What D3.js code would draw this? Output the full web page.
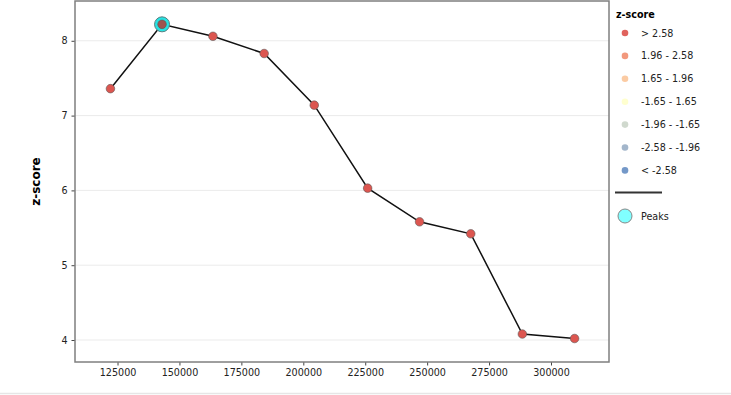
<!DOCTYPE html>
<html>
<head>
<meta charset="utf-8">
<script src="https://cdn.jsdelivr.net/npm/d3@7"></script>
<style>
body{margin:0;background:#fff;}
svg{font-family:"DejaVu Sans",sans-serif;}
</style>
</head>
<body>
<div id="chart"></div>
<script>
var distances = [122140, 142970, 163520, 184200, 204430, 225980, 246940, 267610, 288440, 309520];
var zscores = [7.36, 8.22, 8.06, 7.83, 7.14, 6.03, 5.58, 5.42, 4.08, 4.02];
var peakIdx = [1];
var xTicks = [125000, 150000, 175000, 200000, 225000, 250000, 275000, 300000];
var yTicks = [4, 5, 6, 7, 8];
var legendLabels = ["> 2.58", "1.96 - 2.58", "1.65 - 1.96", "-1.65 - 1.65", "-1.96 - -1.65", "-2.58 - -1.96", "< -2.58"];
var legendColors = ["#d62f27", "#ed7551", "#fab984", "#ffffbf", "#c0ccbe", "#849eba", "#4575b5"];

var W = 731, H = 395;
// plot box (window.top is reserved, so not "top")
var pLeft = 75, pRight = 609, pTop = 1, pBottom = 362;

var svg = d3.select("#chart").append("svg")
	.attr("width", W).attr("height", H);

var x = d3.scaleLinear().domain([107830, 323420]).range([pLeft, pRight]);
var y = d3.scaleLinear().domain([3.706, 8.532]).range([pBottom, pTop]);

// grid
svg.selectAll(".grid").data(yTicks).enter().append("line")
	.attr("class","grid")
	.attr("x1", pLeft).attr("x2", pRight)
	.attr("y1", function(d){ return y(d); })
	.attr("y2", function(d){ return y(d); })
	.attr("stroke","#ebebeb").attr("stroke-width",1);

// axes
var xAxis = svg.append("g").attr("transform","translate(0," + pBottom + ")")
	.call(d3.axisBottom(x).tickValues(xTicks).tickSize(3.5).tickPadding(4).tickFormat(d3.format("d")));
var yAxis = svg.append("g").attr("transform","translate(" + pLeft + ",0)")
	.call(d3.axisLeft(y).tickValues(yTicks).tickSize(3.5).tickPadding(4).tickFormat(d3.format("d")));
[xAxis, yAxis].forEach(function(a){
	a.select(".domain").remove();
	a.selectAll("text").attr("font-size", 9.6).attr("fill","#222").attr("font-family","DejaVu Sans");
	a.selectAll("line").attr("stroke","#444");
});

// frame
svg.append("rect")
	.attr("x", pLeft).attr("y", pTop)
	.attr("width", pRight - pLeft).attr("height", pBottom - pTop)
	.attr("fill","none").attr("stroke","#7f7f7f").attr("stroke-width",1.5);

svg.append("text")
	.attr("transform","translate(40," + ((pTop + pBottom) / 2) + ") rotate(-90)")
	.attr("text-anchor","middle")
	.attr("font-size", 12).attr("font-weight","bold")
	.text("z-score");

var pts = distances.map(function(d,i){ return [d, zscores[i]]; });

svg.append("path")
	.datum(pts)
	.attr("fill","none").attr("stroke","#111").attr("stroke-width",1.5)
	.attr("d", d3.line().x(function(d){ return x(d[0]); }).y(function(d){ return y(d[1]); }));

// peak marker
svg.selectAll(".peak").data(peakIdx).enter().append("circle")
	.attr("class","peak")
	.attr("cx", function(i){ return x(distances[i]); })
	.attr("cy", function(i){ return y(zscores[i]); })
	.attr("r", 7.5)
	.attr("fill","#27e3e3").attr("stroke","#5a7f80").attr("stroke-width",1);

svg.selectAll(".pt").data(pts).enter().append("circle")
	.attr("class","pt")
	.attr("cx", function(d){ return x(d[0]); })
	.attr("cy", function(d){ return y(d[1]); })
	.attr("r", 4.3)
	.attr("fill", function(d,i){ return peakIdx.indexOf(i) >= 0 ? "#a0544f" : "#dc5650"; })
	.attr("stroke","#555").attr("stroke-opacity",0.7).attr("stroke-width",0.8);

// legend
var lg = svg.append("g");
lg.append("text").attr("x", 616).attr("y", 18)
	.attr("font-size", 9.6).attr("font-weight","bold").text("z-score");
var items = lg.selectAll(".item").data(legendLabels).enter().append("g")
	.attr("class","item")
	.attr("transform", function(d,i){ return "translate(0," + (33 + i * 22.9) + ")"; });
items.append("circle").attr("cx", 625).attr("cy", 0).attr("r", 3.3)
	.attr("fill", function(d,i){ return legendColors[i]; }).attr("fill-opacity",0.75);
items.append("text").attr("x", 641).attr("y", 3.5)
	.attr("font-size", 9.6).attr("fill","#222").text(function(d){ return d; });

lg.append("line").attr("x1", 615).attr("x2", 662).attr("y1", 192.5).attr("y2", 192.5)
	.attr("stroke","#333").attr("stroke-width",2);
lg.append("circle").attr("cx", 625).attr("cy", 216).attr("r", 7)
	.attr("fill","#80ffff").attr("stroke","#888").attr("stroke-width",1);
lg.append("text").attr("x", 641).attr("y", 219.5)
	.attr("font-size", 9.6).attr("fill","#222").text("Peaks");

// bottom border
svg.append("line").attr("x1", 0).attr("x2", W).attr("y1", 393.5).attr("y2", 393.5)
	.attr("stroke","#e6e6e6").attr("stroke-width",1.5);
</script>
</body>
</html>
